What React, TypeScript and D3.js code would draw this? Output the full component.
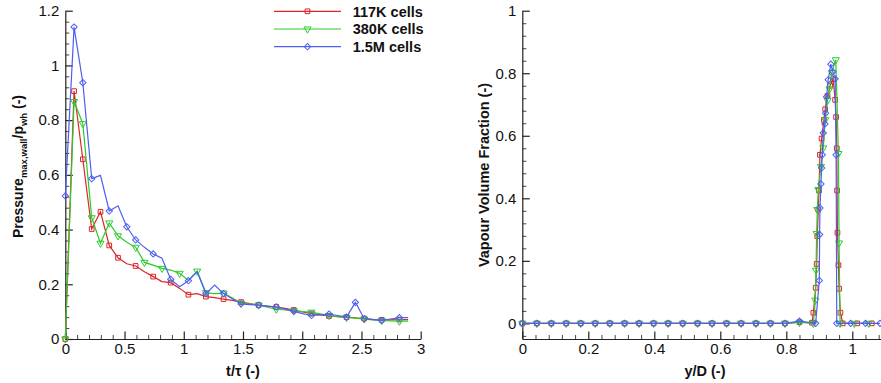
import React, { useEffect, useRef } from "react";
import * as d3 from "d3";

const W = 881;
const H = 383;
const FONT = "'Liberation Sans', Arial, Helvetica, sans-serif";

// ---- left panel: max wall pressure vs time ----
const TIME = [
  0, 0.074, 0.148, 0.223, 0.297, 0.371, 0.445, 0.519, 0.594, 0.668, 0.742, 0.816, 0.89, 0.965,
  1.039, 1.113, 1.187, 1.261, 1.336, 1.41, 1.484, 1.558, 1.632, 1.707, 1.781, 1.855, 1.929, 2.003,
  2.078, 2.152, 2.226, 2.3, 2.374, 2.449, 2.523, 2.597, 2.671, 2.745, 2.82, 2.894,
];
const PRESS_117K = [
  0, 0.906, 0.657, 0.402, 0.465, 0.342, 0.297, 0.275, 0.267, 0.246, 0.228, 0.21, 0.206, 0.185,
  0.162, 0.166, 0.155, 0.151, 0.146, 0.141, 0.135, 0.129, 0.124, 0.12, 0.117, 0.112, 0.106, 0.099,
  0.093, 0.088, 0.084, 0.082, 0.08, 0.077, 0.075, 0.072, 0.07, 0.07, 0.071, 0.071,
];
const PRESS_380K = [
  0, 0.868, 0.787, 0.443, 0.35, 0.424, 0.377, 0.354, 0.335, 0.28, 0.27, 0.258, 0.252, 0.24,
  0.214, 0.248, 0.169, 0.166, 0.168, 0.15, 0.131, 0.128, 0.124, 0.116, 0.109, 0.106, 0.103, 0.1,
  0.098, 0.092, 0.086, 0.082, 0.079, 0.076, 0.073, 0.07, 0.068, 0.066, 0.065, 0.065,
];
const PRESS_1_5M = [
  0.523, 1.14, 0.937, 0.586, 0.598, 0.468, 0.487, 0.41, 0.362, 0.335, 0.311, 0.295, 0.218, 0.191,
  0.213, 0.246, 0.166, 0.197, 0.166, 0.147, 0.128, 0.126, 0.124, 0.12, 0.117, 0.109, 0.101, 0.093,
  0.086, 0.088, 0.091, 0.086, 0.08, 0.134, 0.074, 0.071, 0.068, 0.073, 0.078, 0.078,
];

// ---- right panel: vapour volume fraction vs y/D ----
const VF_BASE_X = [
  0, 0.044, 0.088, 0.133, 0.177, 0.221, 0.265, 0.31, 0.354, 0.398, 0.442, 0.486, 0.531, 0.575,
  0.619, 0.663, 0.708, 0.752, 0.796,
];
const VF_BASE_Y = [0, 0, 0, 0, 0, 0, 0, 0, 0, 0, 0, 0, 0, 0, 0, 0, 0, 0, 0];

const VF_117K_X = [
  0.84, 0.878, 0.882, 0.889, 0.892, 0.894, 0.897, 0.899, 0.902, 0.907, 0.914, 0.918, 0.925, 0.933,
  0.942, 0.948, 0.951, 0.953, 0.954, 0.955, 0.958, 0.96, 0.964, 0.971, 1.015, 1.059,
];
const VF_117K_Y = [
  0.004, 0.002, 0.034, 0.114, 0.19, 0.279, 0.364, 0.425, 0.539, 0.591, 0.651, 0.685, 0.728, 0.76,
  0.781, 0.715, 0.66, 0.56, 0.425, 0.29, 0.186, 0.111, 0.034, 0, 0, 0,
];
const VF_380K_X = [
  0.84, 0.882, 0.888, 0.89, 0.892, 0.894, 0.897, 0.905, 0.912, 0.918, 0.925, 0.931, 0.938, 0.95,
  0.958, 0.96, 0.963, 1.006, 1.05,
];
const VF_380K_Y = [
  0.003, 0, 0.074, 0.17, 0.287, 0.364, 0.428, 0.502, 0.561, 0.651, 0.713, 0.75, 0.802, 0.843,
  0.543, 0.257, 0, 0, 0,
];
const VF_1_5M_X = [
  0.84, 0.889, 0.9, 0.901, 0.902, 0.905, 0.907, 0.909, 0.912, 0.917, 0.919, 0.922, 0.927, 0.935,
  0.941, 0.948, 0.951, 0.953, 0.995, 1.04, 1.084,
];
const VF_1_5M_Y = [
  0.007, 0, 0.137, 0.284, 0.369, 0.446, 0.497, 0.539, 0.609, 0.638, 0.672, 0.725, 0.779, 0.829,
  0.805, 0.782, 0.539, 0, 0, 0, 0,
];

const SERIES = [
  {
    name: "117K cells", color: "#dc2626", symbol: "square",
    press: PRESS_117K, vfX: [...VF_BASE_X, ...VF_117K_X], vfY: [...VF_BASE_Y, ...VF_117K_Y],
  },
  {
    name: "380K cells", color: "#2ccc2c", symbol: "triangle",
    press: PRESS_380K, vfX: [...VF_BASE_X, ...VF_380K_X], vfY: [...VF_BASE_Y, ...VF_380K_Y],
  },
  {
    name: "1.5M cells", color: "#4d5ff2", symbol: "diamond",
    press: PRESS_1_5M, vfX: [...VF_BASE_X, ...VF_1_5M_X], vfY: [...VF_BASE_Y, ...VF_1_5M_Y],
  },
];

const SYMBOLS = {
  square: { type: d3.symbolSquare, size: 22, rotate: 0 },
  triangle: { type: d3.symbolTriangle, size: 22, rotate: 180 },
  diamond: { type: d3.symbolSquare, size: 20, rotate: 45 },
};

const fmt = (d) => `${+(+d).toFixed(2)}`;

// keep a marker only when it is far enough from the last drawn one (tecplot "skip by distance")
function thinMarkers(pts, minGap) {
  const out = [];
  let last = null;
  for (const p of pts) {
    if (!last || Math.hypot(p[0] - last[0], p[1] - last[1]) >= minGap) {
      out.push(p);
      last = p;
    }
  }
  return out;
}

function minorValues(lo, hi, step, majorStep) {
  return d3
    .range(Math.round((hi - lo) / step) + 1)
    .map((i) => lo + i * step)
    .filter((v) => Math.abs(v / majorStep - Math.round(v / majorStep)) > 1e-6);
}

function drawAxis(g, scale, orient, majors, minors, transform, padding) {
  const make = orient === "left" ? d3.axisLeft : d3.axisBottom;

  const gm = g
    .append("g")
    .attr("transform", transform)
    .call(make(scale).tickValues(minors).tickSize(-4).tickSizeOuter(0).tickFormat(() => ""));
  gm.select(".domain").remove();
  gm.selectAll("line").attr("stroke", "#444");

  const gM = g
    .append("g")
    .attr("transform", transform)
    .call(
      make(scale).tickValues(majors).tickSize(-7.5).tickSizeOuter(0).tickPadding(padding).tickFormat(fmt)
    );
  gM.select(".domain").attr("stroke", "#222").attr("stroke-width", 1.2);
  gM.selectAll("line").attr("stroke", "#222").attr("stroke-width", 1.2);
  gM.selectAll("text")
    .attr("font-family", FONT)
    .attr("font-size", 15)
    .attr("fill", "#111");
}

function drawMarker(g, s, cx, cy) {
  const sym = SYMBOLS[s.symbol];
  g.append("path")
    .attr("d", d3.symbol(sym.type, sym.size)())
    .attr("transform", `translate(${cx},${cy}) rotate(${sym.rotate})`)
    .attr("fill", "none")
    .attr("stroke", s.color)
    .attr("stroke-width", 1);
}

function drawSeries(g, pts, s, minGap) {
  g.append("path")
    .attr("d", d3.line()(pts))
    .attr("fill", "none")
    .attr("stroke", s.color)
    .attr("stroke-width", 1.2);
  thinMarkers(pts, minGap).forEach((p) => drawMarker(g, s, p[0], p[1]));
}

function drawPressure(g) {
  const x = d3.scaleLinear().domain([0, 3]).range([65.3, 420.7]);
  const y = d3.scaleLinear().domain([0, 1.2]).range([339, 10.7]);

  drawAxis(g, x, "bottom", d3.range(0, 3.01, 0.5), minorValues(0, 3, 0.1, 0.5), `translate(0,${y(0)})`, 4);
  drawAxis(g, y, "left", d3.range(0, 1.21, 0.2), minorValues(0, 1.2, 0.04, 0.2), `translate(${x(0)},0)`, 6);

  SERIES.forEach((s) => {
    const pts = TIME.map((t, i) => [x(t), y(s.press[i])]);
    drawSeries(g, pts, s, 13);
  });

  // legend
  const rowY = [11.3, 29, 46.7];
  SERIES.forEach((s, i) => {
    const row = g.append("g");
    row.append("line")
      .attr("x1", 274)
      .attr("x2", 341)
      .attr("y1", rowY[i])
      .attr("y2", rowY[i])
      .attr("stroke", s.color)
      .attr("stroke-width", 1.2);
    drawMarker(row, s, 307.5, rowY[i]);
    row.append("text")
      .attr("x", 352.7)
      .attr("y", rowY[i])
      .attr("dy", "0.36em")
      .attr("font-family", FONT)
      .attr("font-weight", "bold")
      .attr("font-size", 14.5)
      .attr("fill", "#111")
      .text(s.name);
  });

  g.append("text")
    .attr("x", 243)
    .attr("y", 376)
    .attr("text-anchor", "middle")
    .attr("font-family", FONT)
    .attr("font-weight", "bold")
    .attr("font-size", 14.5)
    .attr("fill", "#111")
    .text("t/τ (-)");

  const yt = g.append("text")
    .attr("transform", "translate(23,166.5) rotate(-90)")
    .attr("text-anchor", "middle")
    .attr("font-family", FONT)
    .attr("font-weight", "bold")
    .attr("font-size", 14)
    .attr("fill", "#111");
  yt.append("tspan").text("Pressure");
  yt.append("tspan").attr("dy", 4).attr("font-size", 9.5).text("max,wall");
  yt.append("tspan").attr("dy", -4).text("/p");
  yt.append("tspan").attr("dy", 4).attr("font-size", 9.5).text("wh");
  yt.append("tspan").attr("dy", -4).text(" (-)");
}

function drawVapour(g) {
  const x = d3.scaleLinear().domain([0, 1.087]).range([522.3, 881]);
  const y = d3.scaleLinear().domain([-0.05, 1]).range([339, 10.7]);

  drawAxis(g, x, "bottom", d3.range(0, 1.01, 0.2), minorValues(0, 1.08, 0.04, 0.2), `translate(0,${y(-0.05)})`, 4);
  drawAxis(g, y, "left", d3.range(0, 1.01, 0.2), minorValues(-0.04, 1, 0.04, 0.2), `translate(${x(0)},0)`, 6);

  SERIES.forEach((s) => {
    const pts = s.vfX.map((v, i) => [x(v), y(s.vfY[i])]);
    drawSeries(g, pts, s, 0);
  });

  g.append("text")
    .attr("x", 705)
    .attr("y", 376)
    .attr("text-anchor", "middle")
    .attr("font-family", FONT)
    .attr("font-weight", "bold")
    .attr("font-size", 14.5)
    .attr("fill", "#111")
    .text("y/D (-)");

  g.append("text")
    .attr("transform", "translate(488.5,175) rotate(-90)")
    .attr("text-anchor", "middle")
    .attr("font-family", FONT)
    .attr("font-weight", "bold")
    .attr("font-size", 14.5)
    .attr("fill", "#111")
    .text("Vapour Volume Fraction (-)");
}

export default function App() {
  const ref = useRef(null);

  useEffect(() => {
    const svg = d3.select(ref.current);
    svg.selectAll("*").remove();
    drawPressure(svg.append("g"));
    drawVapour(svg.append("g"));
  }, []);

  return (
    <svg
      ref={ref}
      width={W}
      height={H}
      style={{ position: "absolute", left: 0, top: 0, background: "#fff" }}
    />
  );
}
